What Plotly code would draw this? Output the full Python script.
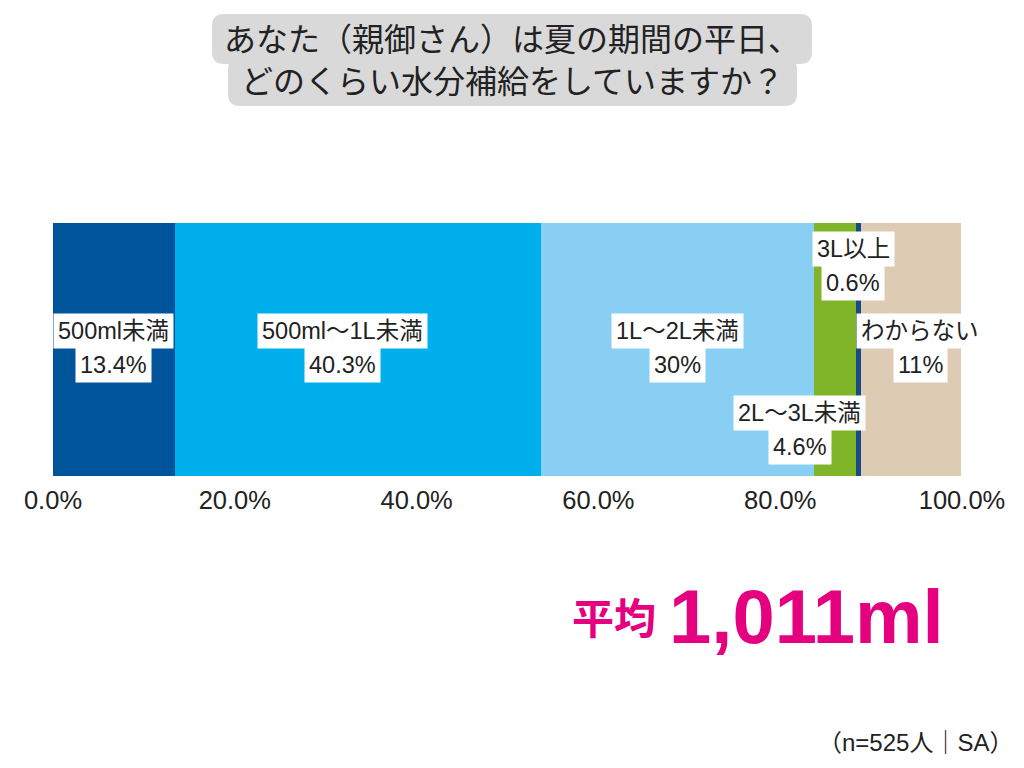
import plotly.graph_objects as go

# data
categories = ["500ml未満", "500ml～1L未満", "1L～2L未満", "2L～3L未満", "3L以上", "わからない"]
shares = [13.4, 40.3, 30, 4.6, 0.6, 11]
share_labels = ["13.4%", "40.3%", "30%", "4.6%", "0.6%", "11%"]
colors = ["#00549c", "#00afec", "#88cff3", "#80b529", "#1a4a86", "#decbb4"]
tick_vals = [0, 20, 40, 60, 80, 100]
tick_text = ["0.0%", "20.0%", "40.0%", "60.0%", "80.0%", "100.0%"]
title_lines = ["あなた（親御さん）は夏の期間の平日、", "どのくらい水分補給をしていますか？"]
average_label = "平均"
average_value = "1,011ml"
note = "（n=525人｜SA）"

# label placement (paper y of the name line, x nudge in px)
label_y = [0.573, 0.573, 0.573, 0.249, 0.897, 0.573]
label_dx = [0, -15, 0, -35, -5, 9]

W, H = 1024, 768
OFF = 8  # page body margin
PL, PR, PT, PB = 53, 962, 223, 476  # plot area in screen px
FONT = "Liberation Sans, Arial, Noto Sans CJK JP"


def px_x(p):
    return (p - PL) / (PR - PL)


def px_y(p):
    return (PB - p) / (PB - PT)


def rounded(x0, y0, x1, y1, r):
    return (f"M {px_x(x0 + r)},{px_y(y0)} L {px_x(x1 - r)},{px_y(y0)} "
            f"Q {px_x(x1)},{px_y(y0)} {px_x(x1)},{px_y(y0 + r)} "
            f"L {px_x(x1)},{px_y(y1 - r)} Q {px_x(x1)},{px_y(y1)} {px_x(x1 - r)},{px_y(y1)} "
            f"L {px_x(x0 + r)},{px_y(y1)} Q {px_x(x0)},{px_y(y1)} {px_x(x0)},{px_y(y1 - r)} "
            f"L {px_x(x0)},{px_y(y0 + r)} Q {px_x(x0)},{px_y(y0)} {px_x(x0 + r)},{px_y(y0)} Z")


fig = go.Figure()
for name, v, c in zip(categories, shares, colors):
    fig.add_trace(go.Bar(
        y=[""], x=[v], name=name, orientation="h",
        marker=dict(color=c, line=dict(width=0)),
        hoverinfo="skip",
    ))

# segment labels
start = 0
for i, v in enumerate(shares):
    mid = start + v / 2
    start += v
    for j, txt in enumerate([categories[i], share_labels[i]]):
        fig.add_annotation(
            x=mid, xref="x", y=label_y[i] - j * 0.134, yref="paper",
            text=txt, showarrow=False, xshift=label_dx[i], yanchor="middle",
            font=dict(family=FONT, size=23.5, color="#222222"),
            bgcolor="#ffffff", borderpad=4,
        )

# title boxes (one per line, like the original)
for box in [(212, 14, 812, 64, 12), (228, 58, 797, 106, 12)]:
    fig.add_shape(type="path", path=rounded(*box), xref="paper", yref="paper",
                  fillcolor="#d9d9d9", line=dict(width=0), layer="below")

for k, line in enumerate(title_lines):
    fig.add_annotation(
        x=px_x(512), y=px_y(40 + k * 42), xref="paper", yref="paper",
        text=line, showarrow=False, yanchor="middle",
        font=dict(family=FONT, size=32, color="#222222"),
    )

fig.add_annotation(
    x=px_x(658), y=px_y(619), xref="paper", yref="paper", xanchor="right",
    text=f"<b>{average_label}</b>", showarrow=False, yanchor="middle",
    font=dict(family=FONT, size=42, color="#e4007f"),
)
fig.add_annotation(
    x=px_x(667), y=px_y(616), xref="paper", yref="paper", xanchor="left",
    text=f"<b>{average_value}</b>", showarrow=False, yanchor="middle",
    font=dict(family=FONT, size=76, color="#e4007f"),
)
fig.add_annotation(
    x=px_x(1015), y=px_y(742), xref="paper", yref="paper", xanchor="right",
    text=note, showarrow=False, yanchor="middle",
    font=dict(family=FONT, size=24, color="#222222"),
)

fig.update_layout(
    width=W, height=H, barmode="stack", bargap=0, showlegend=False,
    margin=dict(l=PL - OFF, r=W - (PR - OFF), t=PT - OFF, b=H - (PB - OFF)),
    paper_bgcolor="#ffffff", plot_bgcolor="#ffffff",
    font=dict(family=FONT, color="#222222"),
)
fig.update_xaxes(range=[0, 100], tickvals=tick_vals, ticktext=tick_text,
                 showgrid=False, zeroline=False, showline=False, ticks="",
                 tickfont=dict(size=25.5, color="#222222"), ticklabelstandoff=6)
fig.update_yaxes(showticklabels=False, showgrid=False, zeroline=False)

fig.write_html("out.html")
